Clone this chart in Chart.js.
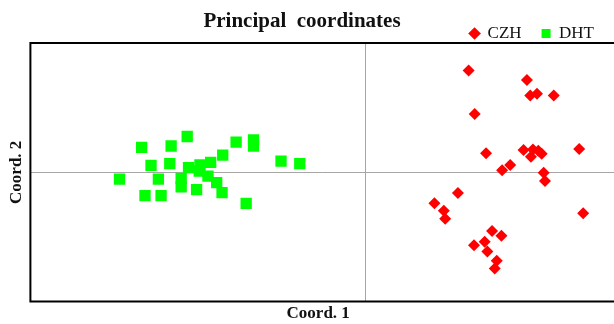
<!DOCTYPE html>
<html>
<head>
<meta charset="utf-8">
<script src="https://cdn.jsdelivr.net/npm/chart.js@4/dist/chart.umd.min.js"></script>
<style>
  html, body { margin: 0; padding: 0; background: #fff; overflow: hidden; }
  #wrap { width: 614px; height: 324px; position: relative; }
</style>
</head>
<body>
<div id="wrap"><canvas id="pcoa"></canvas></div>
<script>
// PCoA scores
var czhX = [0.154, 0.241, 0.246, 0.256, 0.281, 0.163, 0.180, 0.236, 0.250, 0.247, 0.258, 0.263, 0.319, 0.216, 0.204,
            0.266, 0.268, 0.138, 0.103, 0.117, 0.119, 0.325, 0.189, 0.203, 0.178, 0.162, 0.182, 0.196, 0.193];
var czhY = [0.236, 0.214, 0.178, 0.182, 0.178, 0.135, 0.044, 0.052, 0.053, 0.036, 0.050, 0.043, 0.054, 0.017, 0.005,
            -0.001, -0.020, -0.048, -0.072, -0.089, -0.108, -0.095, -0.136, -0.147, -0.161, -0.169, -0.184, -0.205, -0.223];
var dhtX = [-0.367, -0.334, -0.320, -0.309, -0.329, -0.305, -0.290, -0.292, -0.266, -0.275, -0.275, -0.264, -0.252,
            -0.247, -0.248, -0.231, -0.235, -0.222, -0.214, -0.213, -0.193, -0.167, -0.167, -0.178, -0.126, -0.098];
var dhtY = [-0.016, 0.058, 0.016, -0.016, -0.054, -0.054, 0.061, 0.020, 0.083, -0.014, -0.034, 0.011, -0.040,
            0.017, 0.003, 0.023, -0.009, -0.024, -0.047, 0.040, 0.070, 0.075, 0.061, -0.072, 0.026, 0.020];
var seriesNames = ["CZH", "DHT"];
var chartTitle = "Principal  coordinates";
var xTitle = "Coord. 1";
var yTitle = "Coord. 2";

function toPoints(xs, ys) {
    return xs.map(function(x, i) { return {x: x, y: ys[i]}; });
}

var serif = "'Liberation Serif', 'Times New Roman', serif";

// title, frame and zero lines; legend keeps wide item spacing but a short box
var pcoaDecor = {
    id: 'pcoaDecor',
    afterInit: function(chart) {
        var lg = chart.legend;
        if (lg && !lg._shortFit) {
            var fit = lg.fit;
            lg.fit = function() {
                fit.call(this);
                this.height = 38;
            };
            lg._shortFit = true;
        }
    },
    beforeDatasetsDraw: function(chart) {
        var ctx = chart.ctx, a = chart.chartArea;
        var x0 = chart.scales.x.getPixelForValue(0);
        var y0 = chart.scales.y.getPixelForValue(0);
        ctx.save();
        ctx.strokeStyle = '#a6a6a6';
        ctx.lineWidth = 1;
        ctx.beginPath();
        ctx.moveTo(Math.round(x0) + 0.5, a.top);
        ctx.lineTo(Math.round(x0) + 0.5, a.bottom);
        ctx.moveTo(a.left, Math.round(y0) + 0.5);
        ctx.lineTo(chart.width, Math.round(y0) + 0.5);
        ctx.stroke();
        ctx.strokeStyle = '#000';
        ctx.lineWidth = 2;
        ctx.beginPath();
        ctx.moveTo(chart.width, a.top);
        ctx.lineTo(a.left, a.top);
        ctx.lineTo(a.left, a.bottom);
        ctx.lineTo(chart.width, a.bottom);
        ctx.stroke();
        ctx.restore();
    },
    afterDraw: function(chart) {
        var ctx = chart.ctx;
        ctx.save();
        ctx.fillStyle = '#111';
        ctx.font = "bold 21px " + serif;
        ctx.textAlign = 'center';
        ctx.textBaseline = 'middle';
        ctx.fillText(chartTitle, 302, 22);
        ctx.restore();
    }
};

var ctx = document.getElementById('pcoa').getContext('2d');
window.pcoaChart = new Chart(ctx, {
    type: 'scatter',
    data: {
        datasets: [
            {
                label: seriesNames[0],
                data: toPoints(czhX, czhY),
                pointStyle: 'rectRot',
                pointRadius: 6,
                backgroundColor: '#ff0000',
                borderColor: '#ff0000',
                borderWidth: 0
            },
            {
                label: seriesNames[1],
                data: toPoints(dhtX, dhtY),
                pointStyle: 'rect',
                pointRadius: 8,
                backgroundColor: '#00ff00',
                borderColor: '#00ff00',
                borderWidth: 0
            }
        ]
    },
    options: {
        responsive: true,
        maintainAspectRatio: false,
        animation: false,
        layout: { padding: { left: 6, right: 0, top: 5, bottom: 0 } },
        plugins: {
            tooltip: { enabled: false },
            legend: {
                position: 'top',
                align: 'end',
                labels: {
                    usePointStyle: true,
                    boxWidth: 9,
                    boxHeight: 9,
                    padding: 20,
                    color: '#111',
                    font: { family: serif, size: 17 }
                }
            }
        },
        scales: {
            x: {
                type: 'linear',
                min: -0.5,
                max: 0.359,
                grid: { display: false, drawTicks: false },
                border: { display: false },
                ticks: { display: false },
                title: {
                    display: true,
                    text: xTitle,
                    color: '#111',
                    font: { family: serif, size: 17, weight: 'bold' },
                    padding: { top: 2, bottom: 0 }
                }
            },
            y: {
                type: 'linear',
                min: -0.3,
                max: 0.3,
                grid: { display: false, drawTicks: false },
                border: { display: false },
                ticks: { display: false },
                title: {
                    display: true,
                    text: yTitle,
                    color: '#111',
                    font: { family: serif, size: 17, weight: 'bold' },
                    padding: { top: 0, bottom: 4 }
                }
            }
        }
    },
    plugins: [pcoaDecor]
});
</script>
</body>
</html>
